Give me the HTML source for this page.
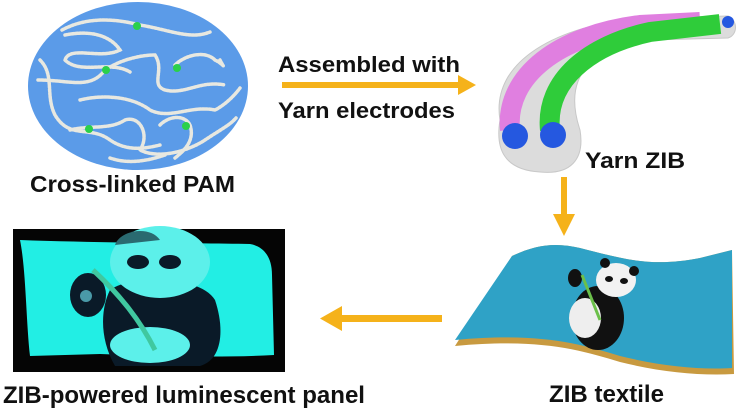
<!DOCTYPE html>
<html><head><style>
html,body{margin:0;padding:0;background:#fff;width:744px;height:409px;overflow:hidden}
text{font-family:"Liberation Sans",sans-serif;font-weight:bold;fill:#111}
</style></head><body>
<svg width="744" height="409" viewBox="0 0 744 409" xmlns="http://www.w3.org/2000/svg">
<!-- PAM ellipse -->
<ellipse cx="138" cy="86" rx="110" ry="84" fill="#5b9be8"/>
<g fill="none" stroke="#e8e8e0" stroke-width="3.5" stroke-dasharray="2 1.5" stroke-linecap="round">
<path d="M62,30 C90,15 120,20 140,25 C170,30 190,40 210,32"/>
<path d="M65,35 C90,30 110,35 120,50 C100,60 70,45 65,60 C80,75 110,60 130,72"/>
<path d="M40,60 C55,75 45,95 55,115 C70,140 90,125 110,140 C125,150 140,150 160,145"/>
<path d="M38,80 C70,80 90,90 105,70 C120,60 140,55 155,55 C165,70 150,85 165,90 C185,95 200,80 225,85"/>
<path d="M80,100 C100,95 130,95 150,110 C170,120 190,105 215,110 C225,105 235,95 240,88"/>
<path d="M70,130 C90,125 110,130 125,120 C140,115 150,135 140,150 C160,160 190,150 205,140 C220,130 230,125 236,118"/>
<path d="M175,65 C185,55 205,50 215,60 C225,65 225,70 220,60"/>
<path d="M160,125 C170,115 185,115 190,125 C195,140 185,150 175,158"/>
<path d="M110,158 C130,165 150,160 165,155"/>
</g>
<g fill="#2bd04a"><circle cx="137" cy="26" r="4"/><circle cx="106" cy="70" r="4"/><circle cx="177" cy="68" r="4"/><circle cx="89" cy="129" r="4"/><circle cx="186" cy="126" r="4"/></g>
<text x="30" y="192" font-size="23" textLength="205" lengthAdjust="spacingAndGlyphs">Cross-linked PAM</text>
<!-- arrow 1 -->
<text x="278" y="72" font-size="22" textLength="182" lengthAdjust="spacingAndGlyphs">Assembled with</text>
<rect x="282" y="82" width="178" height="6" fill="#f5b21a"/>
<path d="M458,75 L476,85 L458,95 Z" fill="#f5b21a"/>
<text x="278" y="118" font-size="22" textLength="177" lengthAdjust="spacingAndGlyphs">Yarn electrodes</text>
<!-- yarn -->
<path d="M500,120 C490,60 560,25 640,18 L728,16 C738,20 738,35 728,38 L650,40 C600,45 560,70 580,130 C585,160 570,175 540,172 C505,170 495,150 500,120 Z" fill="#dcdcdc" stroke="#c8c8c8"/>
<path d="M510,130 C505,75 560,35 640,25 L700,22" stroke="#e07fe0" stroke-width="20" fill="none"/>
<path d="M550,130 C545,80 590,45 650,32 L720,24" stroke="#2fcc3a" stroke-width="20" fill="none"/>
<g fill="#2558e0"><circle cx="515" cy="136" r="13"/><circle cx="553" cy="135" r="13"/><circle cx="728" cy="22" r="6"/></g>
<text x="585" y="168" font-size="22" textLength="100" lengthAdjust="spacingAndGlyphs">Yarn ZIB</text>
<!-- down arrow -->
<rect x="561" y="177" width="6" height="40" fill="#f5b21a"/>
<path d="M553,214 L564,236 L575,214 Z" fill="#f5b21a"/>
<!-- textile -->
<path d="M512,256 C535,245 555,242 580,248 C620,258 650,268 700,258 L732,250 L734,374 C700,376 660,372 620,362 C580,350 540,338 455,346 Z" fill="#c89a40"/>
<path d="M512,256 C535,245 555,242 580,248 C620,258 650,268 700,258 L732,250 L732,368 C700,370 660,366 620,356 C580,344 540,332 455,340 Z" fill="#2fa2c6"/>
<ellipse cx="598" cy="318" rx="26" ry="32" fill="#111"/>
<ellipse cx="585" cy="318" rx="16" ry="20" fill="#eee"/>
<ellipse cx="616" cy="280" rx="20" ry="17" fill="#f2f2f2"/>
<circle cx="605" cy="263" r="5" fill="#111"/><circle cx="634" cy="271" r="5" fill="#111"/>
<ellipse cx="609" cy="279" rx="4" ry="3" fill="#111"/><ellipse cx="624" cy="281" rx="4" ry="3" fill="#111"/>
<ellipse cx="575" cy="278" rx="7" ry="9" fill="#111"/>
<line x1="582" y1="275" x2="600" y2="320" stroke="#6bc04a" stroke-width="3"/>
<!-- panel -->
<rect x="13" y="229" width="272" height="143" fill="#050505"/>
<path d="M20,240 C100,243 200,243 250,244 C262,246 272,255 272,275 L274,355 C220,358 150,356 100,354 L30,356 C26,320 26,270 20,240 Z" fill="#22eee4"/>
<path d="M110,290 C130,275 200,275 215,300 C225,330 222,360 200,366 L115,366 C100,340 100,310 110,290 Z" fill="#0a1a28"/>
<ellipse cx="160" cy="262" rx="50" ry="36" fill="#5cf0ea"/>
<path d="M115,245 C120,230 150,225 160,240" fill="#2a6a70"/>
<ellipse cx="138" cy="262" rx="11" ry="7" fill="#0a1a28"/><ellipse cx="170" cy="262" rx="11" ry="7" fill="#0a1a28"/>
<ellipse cx="88" cy="295" rx="18" ry="22" fill="#0a1a28"/>
<circle cx="86" cy="296" r="6" fill="#4a9aa8"/>
<ellipse cx="150" cy="345" rx="40" ry="18" fill="#5cf0ea"/>
<path d="M93,270 C120,295 140,320 155,350" stroke="#40c8a0" stroke-width="5" fill="none"/>
<!-- left arrow -->
<rect x="338" y="315" width="104" height="7" fill="#f5b21a"/>
<path d="M342,306 L320,318.5 L342,331 Z" fill="#f5b21a"/>
<text x="3" y="403" font-size="24" textLength="362" lengthAdjust="spacingAndGlyphs">ZIB-powered luminescent panel</text>
<text x="549" y="402" font-size="24" textLength="115" lengthAdjust="spacingAndGlyphs">ZIB textile</text>
</svg>
</body></html>
